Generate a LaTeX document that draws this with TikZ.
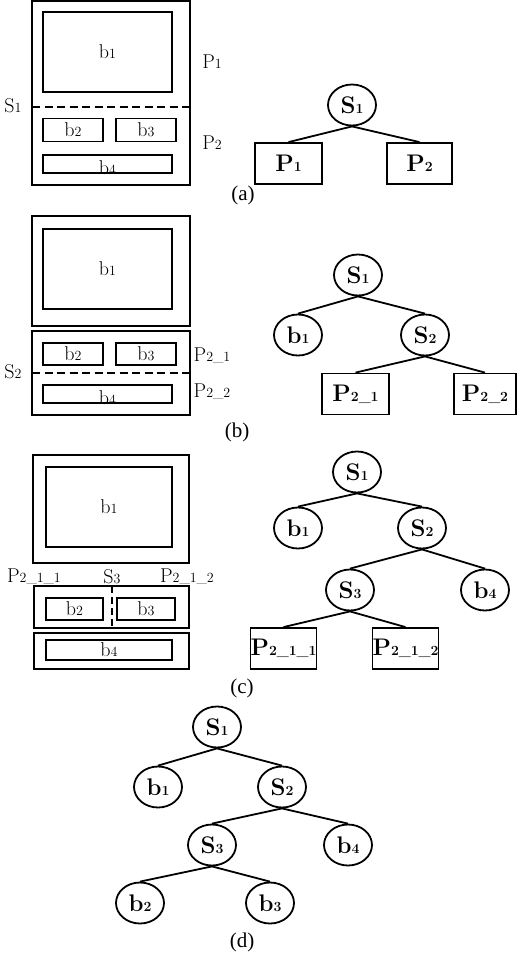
\documentclass[tikz,border=0pt]{standalone}
\usepackage{fontspec}
\usepackage{tikz}
\usetikzlibrary{shapes.geometric}
\newfontfamily\capfont{Liberation Serif}
\newcommand{\lbl}{\fontsize{20}{20}\selectfont}
\newcommand{\sm}[1]{{\fontsize{14}{14}\selectfont #1}}
\tikzset{
  frame/.style={line width=2pt},
  blk/.style={draw,line width=1.3pt,inner sep=0pt,font=\lbl},
  cut/.style={line width=2pt,dash pattern=on 8pt off 4.5pt},
  tn/.style={ellipse,draw,line width=1.8pt,minimum width=48pt,minimum height=41pt,inner sep=0pt,font=\fontsize{24}{24}\selectfont\bfseries},
  leaf/.style={rectangle,draw,line width=1.8pt,minimum height=41pt,inner sep=0pt,font=\fontsize{24}{24}\selectfont\bfseries},
  edge/.style={line width=1.8pt},
  txt/.style={font=\lbl,inner sep=0pt},
  captxt/.style={font=\capfont\fontsize{21}{21}\selectfont,inner sep=0pt}
}
\begin{document}
\begin{tikzpicture}[x=1pt,y=-1pt]
    \useasboundingbox (0,0) rectangle (517,959);
    % (a)
    \draw[frame] (32,1) rectangle (190,185);
    \draw[cut] (32,107) -- (190,107);
    \node[blk,minimum width=129pt,minimum height=80pt] (a1) at (107.5,52) {b\sm{1}};
    \node[blk,minimum width=60pt,minimum height=23pt] (a2) at (73,130) {b\sm{2}};
    \node[blk,minimum width=60pt,minimum height=23pt] (a3) at (146,130) {b\sm{3}};
    \node[blk,minimum width=129pt,minimum height=18pt] (a4) at (107.5,164) {};
    \node[txt] (a4t) at (107.5,168) {b\sm{4}};
    \node[txt] (as1) at (13,106) {S\sm{1}};
    \node[txt] (ap1) at (212,62) {P\sm{1}};
    \node[txt] (ap2) at (212,143) {P\sm{2}};
    \node[tn] (aS1) at (352,105) {S\sm{1}};
    \node[leaf,minimum width=67pt] (aP1) at (288.5,163.5) {P\sm{1}};
    \node[leaf,minimum width=65pt] (aP2) at (419.5,163.5) {P\sm{2}};
    \foreach \c in {aP1,aP2} \draw[edge] (aS1.south) -- (\c.north);
    \node[captxt] (capa) at (243,195) {(a)};
    % (b)
    \draw[frame] (32,216) rectangle (190,326);
    \draw[frame] (32,331) rectangle (190,415);
    \draw[cut] (32,373) -- (190,373);
    \node[blk,minimum width=129pt,minimum height=80pt] (b1) at (107.5,269) {b\sm{1}};
    \node[blk,minimum width=60pt,minimum height=22pt] (b2) at (73,354) {b\sm{2}};
    \node[blk,minimum width=60pt,minimum height=22pt] (b3) at (146,354) {b\sm{3}};
    \node[blk,minimum width=129pt,minimum height=18pt] (b4) at (107.5,394) {};
    \node[txt] (b4t) at (107.5,398) {b\sm{4}};
    \node[txt] (bs2) at (13,372) {S\sm{2}};
    \node[txt] (bp21) at (212,356) {P\sm{2\_1}};
    \node[txt] (bp22) at (212,392) {P\sm{2\_2}};
    \node[tn] (bS1) at (358,275) {S\sm{1}};
    \node[tn] (bb1) at (298,335) {b\sm{1}};
    \node[tn] (bS2) at (425,335) {S\sm{2}};
    \node[leaf,minimum width=67pt] (bP21) at (355.5,394) {P\sm{2\_1}};
    \node[leaf,minimum width=62pt] (bP22) at (485,394) {P\sm{2\_2}};
    \foreach \p/\c in {bS1/bb1,bS1/bS2,bS2/bP21,bS2/bP22} \draw[edge] (\p.south) -- (\c.north);
    \node[captxt] (capb) at (237,432) {(b)};
    % (c)
    \draw[frame] (33,455) rectangle (189,563);
    \draw[frame] (34,586) rectangle (189,628);
    \draw[frame] (34,633) rectangle (189,669);
    \draw[cut,dash pattern=on 7pt off 4pt] (112,586) -- (112,628);
    \node[blk,minimum width=126pt,minimum height=80pt] (c1) at (109,507) {b\sm{1}};
    \node[blk,minimum width=57pt,minimum height=22pt] (c2) at (74.5,609) {b\sm{2}};
    \node[blk,minimum width=58pt,minimum height=22pt] (c3) at (146,609) {b\sm{3}};
    \node[blk,minimum width=126pt,minimum height=20pt] (c4) at (109,650) {b\sm{4}};
    \node[txt] (cp211) at (34,577) {P\sm{2\_1\_1}};
    \node[txt] (cs3) at (112,577) {S\sm{3}};
    \node[txt] (cp212) at (187,577) {P\sm{2\_1\_2}};
    \node[tn] (cS1) at (357,472) {S\sm{1}};
    \node[tn] (cb1) at (298,528) {b\sm{1}};
    \node[tn] (cS2) at (422,528) {S\sm{2}};
    \node[tn] (cS3) at (350,590) {S\sm{3}};
    \node[tn] (cb4) at (485,590) {b\sm{4}};
    \node[leaf,minimum width=65pt] (cP211) at (283.5,648.5) {P\sm{2\_1\_1}};
    \node[leaf,minimum width=65pt] (cP212) at (405.5,648.5) {P\sm{2\_1\_2}};
    \foreach \p/\c in {cS1/cb1,cS1/cS2,cS2/cS3,cS2/cb4,cS3/cP211,cS3/cP212} \draw[edge] (\p.south) -- (\c.north);
    \node[captxt] (capc) at (242,688) {(c)};
    % (d)
    \node[tn] (dS1) at (217,727) {S\sm{1}};
    \node[tn] (db1) at (158,787) {b\sm{1}};
    \node[tn] (dS2) at (282,787) {S\sm{2}};
    \node[tn] (dS3) at (212,845) {S\sm{3}};
    \node[tn] (db4) at (348,845) {b\sm{4}};
    \node[tn] (db2) at (140,903) {b\sm{2}};
    \node[tn] (db3) at (270,903) {b\sm{3}};
    \foreach \p/\c in {dS1/db1,dS1/dS2,dS2/dS3,dS2/db4,dS3/db2,dS3/db3} \draw[edge] (\p.south) -- (\c.north);
    \node[captxt] (capd) at (242,942) {(d)};
  \end{tikzpicture}
\end{document}
